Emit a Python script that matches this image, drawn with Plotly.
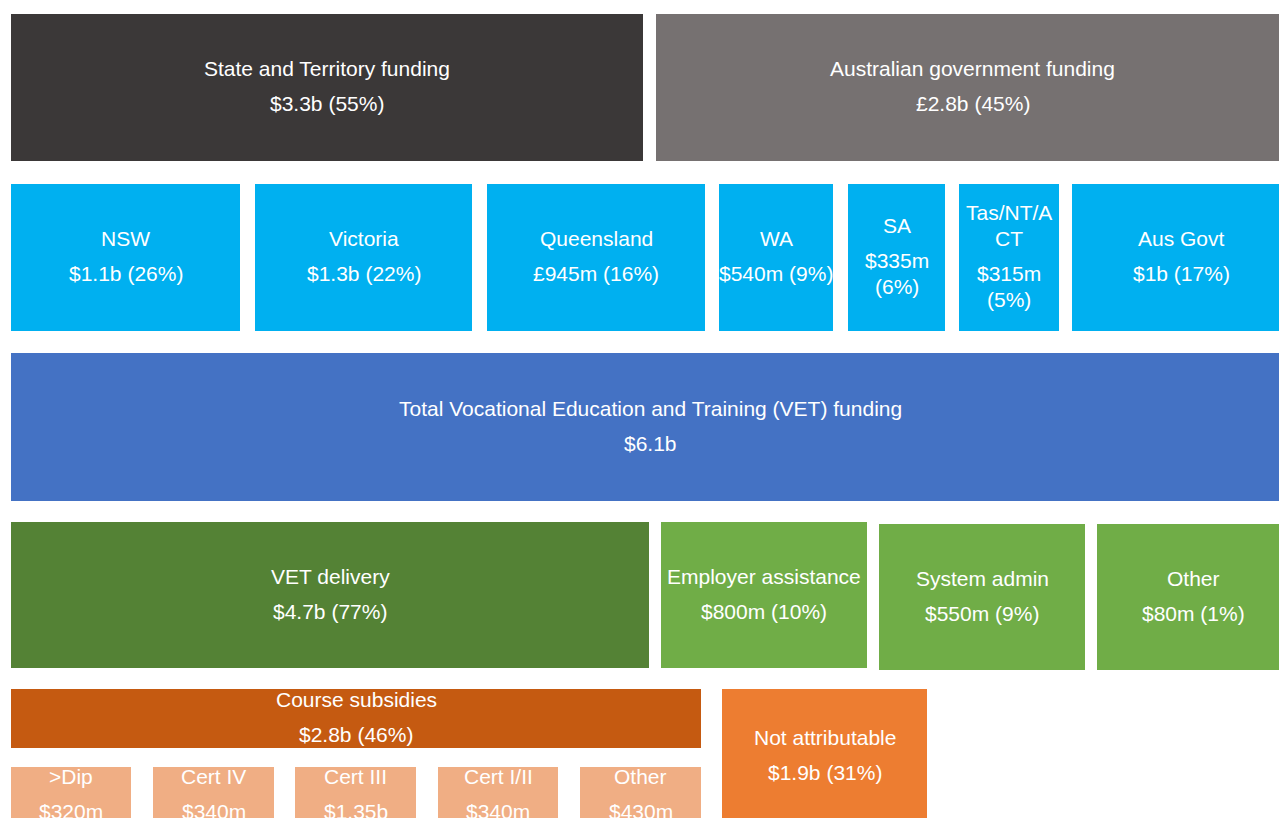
import plotly.graph_objects as go

# ---------------- data ----------------
source_labels = ["State and Territory funding", "Australian government funding"]
source_values = ["$3.3b (55%)", "£2.8b (45%)"]

jurisdiction_labels = ["NSW", "Victoria", "Queensland", "WA", "SA", "Tas/NT/ACT", "Aus Govt"]
jurisdiction_values = ["$1.1b (26%)", "$1.3b (22%)", "£945m (16%)", "$540m (9%)",
                       "$335m (6%)", "$315m (5%)", "$1b (17%)"]

total_labels = ["Total Vocational Education and Training (VET) funding"]
total_values = ["$6.1b"]

use_labels = ["VET delivery", "Employer assistance", "System admin", "Other"]
use_values = ["$4.7b (77%)", "$800m (10%)", "$550m (9%)", "$80m (1%)"]

delivery_labels = ["Course subsidies", "Not attributable"]
delivery_values = ["$2.8b (46%)", "$1.9b (31%)"]

subsidy_labels = [">Dip", "Cert IV", "Cert III", "Cert I/II", "Other"]
subsidy_values = ["$320m", "$340m", "$1.35b", "$340m", "$430m"]

# ---------------- layout (positions / styles) ----------------
rows = [
    dict(labels=source_labels, values=source_values,
         x0=[11, 656], x1=[643, 1289], y0=[14, 14], y1=[161, 161],
         colors=["#3b3838", "#767171"], wrap=[40, 40]),
    dict(labels=jurisdiction_labels, values=jurisdiction_values,
         x0=[11, 255, 487, 719, 848, 959, 1072],
         x1=[240, 472, 705, 833, 945, 1059, 1290],
         y0=[184] * 7, y1=[331] * 7,
         colors=["#00b0f0"] * 7, wrap=[40, 40, 40, 40, 8, 8, 40]),
    dict(labels=total_labels, values=total_values,
         x0=[11], x1=[1289], y0=[353], y1=[501],
         colors=["#4472c4"], wrap=[80]),
    dict(labels=use_labels, values=use_values,
         x0=[11, 661, 879, 1097], x1=[649, 867, 1085, 1289],
         y0=[522, 522, 524, 524], y1=[668, 668, 670, 670],
         colors=["#548235", "#70ad47", "#70ad47", "#70ad47"], wrap=[40] * 4),
    dict(labels=delivery_labels, values=delivery_values,
         x0=[11, 722], x1=[701, 927], y0=[689, 689], y1=[748, 823],
         colors=["#c55a11", "#ed7d31"], wrap=[40, 40]),
    dict(labels=subsidy_labels, values=subsidy_values,
         x0=[11, 153, 295, 438, 580], x1=[131, 274, 416, 558, 701],
         y0=[767] * 5, y1=[823] * 5,
         colors=["#f0ae84"] * 5, wrap=[40] * 5),
]

FONT = dict(family="Liberation Sans, Arial, sans-serif", size=21, color="white")
LINE_GAP = 26
PARA_GAP = 35
TEXT_SHIFT = -1.5


def wrap(text, n):
    out, cur = [], ""
    for w in text.split(" "):
        while len(w) > n:
            if cur:
                out.append(cur)
                cur = ""
            out.append(w[:n])
            w = w[n:]
        if not cur:
            cur = w
        elif len(cur) + 1 + len(w) <= n:
            cur += " " + w
        else:
            out.append(cur)
            cur = w
    if cur:
        out.append(cur)
    return out


fig = go.Figure()
annotations = []
for r in rows:
    n = len(r["labels"])
    widths = [r["x1"][i] - r["x0"][i] for i in range(n)]
    heights = [r["y1"][i] - r["y0"][i] for i in range(n)]
    centers = [(r["y0"][i] + r["y1"][i]) / 2 for i in range(n)]
    fig.add_trace(go.Bar(
        orientation="h", x=widths, base=r["x0"], y=centers, width=heights,
        marker=dict(color=r["colors"], line=dict(width=0)),
        hoverinfo="skip", showlegend=False,
    ))
    for i in range(n):
        lab = wrap(r["labels"][i], r["wrap"][i])
        val = wrap(r["values"][i], r["wrap"][i])
        offs = []
        y = 0
        for k in range(len(lab)):
            offs.append(y)
            y += LINE_GAP
        y += PARA_GAP - LINE_GAP
        for k in range(len(val)):
            offs.append(y)
            y += LINE_GAP
        span = offs[-1]
        cx = (r["x0"][i] + r["x1"][i]) / 2
        for t, o in zip(lab + val, offs):
            annotations.append(dict(
                x=cx, y=centers[i] - span / 2 + o + TEXT_SHIFT, text=t, showarrow=False,
                xanchor="center", yanchor="middle", font=FONT,
            ))

fig.update_layout(
    width=1279, height=818,
    margin=dict(l=0, r=0, t=0, b=0),
    paper_bgcolor="white", plot_bgcolor="white",
    barmode="overlay", bargap=0,
    xaxis=dict(range=[0, 1279], visible=False, fixedrange=True),
    yaxis=dict(range=[818, 0], visible=False, fixedrange=True),
    annotations=annotations,
)

fig.write_html(
    "out.html",
    config=dict(displayModeBar=False),
    post_script="document.body.style.margin='0';document.body.style.overflow='hidden';",
)
